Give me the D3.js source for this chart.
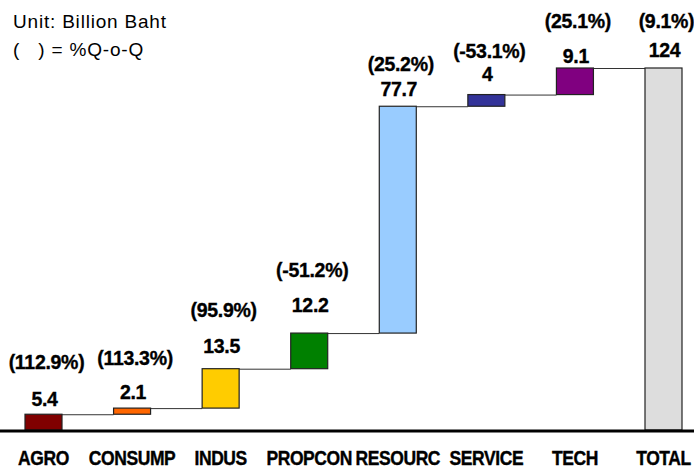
<!DOCTYPE html>
<html>
<head>
<meta charset="utf-8">
<script src="https://cdn.jsdelivr.net/npm/d3@7"></script>
<style>
body{margin:0;background:#fff}
text{font-family:"Liberation Sans",Arial,sans-serif}
</style>
</head>
<body>
<div id="chart"></div>
<script>
var categories = ["AGRO","CONSUMP","INDUS","PROPCON","RESOURC","SERVICE","TECH","TOTAL"]
var values = [5.4,2.1,13.5,12.2,77.7,4,9.1,124]
var pctChange = ["(112.9%)","(113.3%)","(95.9%)","(-51.2%)","(25.2%)","(-53.1%)","(25.1%)","(9.1%)"]
var colors = ["#800000","#ff6600","#ffcc00","#008000","#99ccff","#333399","#800080","#dddddd"]
// hand placed label gaps in the original (px above bar top / above value label)
var valueGap = [8,9,16,21,10,14,5,11]
var pctGap = [37,34,36,35,25,23,35,29]

var width = 694, height = 469
var svg = d3.select("#chart").append("svg").attr("width",width).attr("height",height)

var x = d3.scalePoint().domain(categories).range([43.5,663.5])
var y = d3.scaleLinear().domain([0,124]).range([430,68])
var bw = 37

// running totals for the waterfall
var steps = []
var run = 0
for(var i in values){
    var last = categories[i]=="TOTAL"
    var start = last ? 0 : run
    var end = last ? values[i] : run+values[i]
    steps.push({cat:categories[i],v:values[i],start:start,end:end,pct:pctChange[i],color:colors[i],i:+i})
    if(!last) run = end
}

// connectors
for(var j=0;j<steps.length-1;j++){
    svg.append("line")
        .attr("x1",x(steps[j].cat)+bw/2)
        .attr("x2",x(steps[j+1].cat)-bw/2)
        .attr("y1",y(steps[j].end)+0.5)
        .attr("y2",y(steps[j].end)+0.5)
        .attr("stroke","#333")
        .attr("stroke-width",1)
}

svg.selectAll(".bar")
    .data(steps)
    .enter()
    .append("rect")
    .attr("class","bar")
    .attr("x",function(d){ return x(d.cat)-bw/2 })
    .attr("y",function(d){ return y(d.end) })
    .attr("width",bw)
    .attr("height",function(d){ return y(d.start)-y(d.end) })
    .style("fill",function(d){ return d.color })
    .style("stroke","#222")
    .style("stroke-width",1.2)

// value labels
svg.selectAll(".val")
    .data(steps)
    .enter()
    .append("text")
    .attr("class","val")
    .attr("x",function(d){ return x(d.cat)+1 })
    .attr("y",function(d){ return y(d.end)-valueGap[d.i] })
    .attr("text-anchor","middle")
    .style("font-size","19.5px")
    .style("font-weight","bold")
    .style("letter-spacing","-0.3px")
    .style("stroke","#000")
    .style("stroke-width",0.35)
    .text(function(d){ return d.v })

svg.selectAll(".pct")
    .data(steps)
    .enter()
    .append("text")
    .attr("class","pct")
    .attr("x",function(d){ return x(d.cat)+3 })
    .attr("y",function(d){ return y(d.end)-valueGap[d.i]-pctGap[d.i] })
    .attr("text-anchor","middle")
    .style("font-size","19.5px")
    .style("font-weight","bold")
    .style("letter-spacing","-0.3px")
    .style("stroke","#000")
    .style("stroke-width",0.35)
    .text(function(d){ return d.pct })

// baseline
svg.append("line")
    .attr("x1",0).attr("x2",width)
    .attr("y1",431).attr("y2",431)
    .attr("stroke","#000")
    .attr("stroke-width",3)

// category labels, slightly tall and narrow like the original
svg.selectAll(".cat")
    .data(steps)
    .enter()
    .append("text")
    .attr("class","cat")
    .attr("transform",function(d){ return "translate("+x(d.cat)+",465) scale(1,1.15)" })
    .attr("text-anchor","middle")
    .style("font-size","17.5px")
    .style("font-weight","bold")
    .style("letter-spacing","-0.4px")
    .style("stroke","#000")
    .style("stroke-width",0.35)
    .text(function(d){ return d.cat })

svg.append("text")
    .attr("x",13).attr("y",28)
    .style("font-size","19px")
    .style("letter-spacing","0.8px")
    .text("Unit: Billion Baht")
svg.append("text")
    .attr("x",13).attr("y",56)
    .style("font-size","19px")
    .style("letter-spacing","0.8px")
    .style("white-space","pre")
    .text("(   ) = %Q-o-Q")
</script>
</body>
</html>
